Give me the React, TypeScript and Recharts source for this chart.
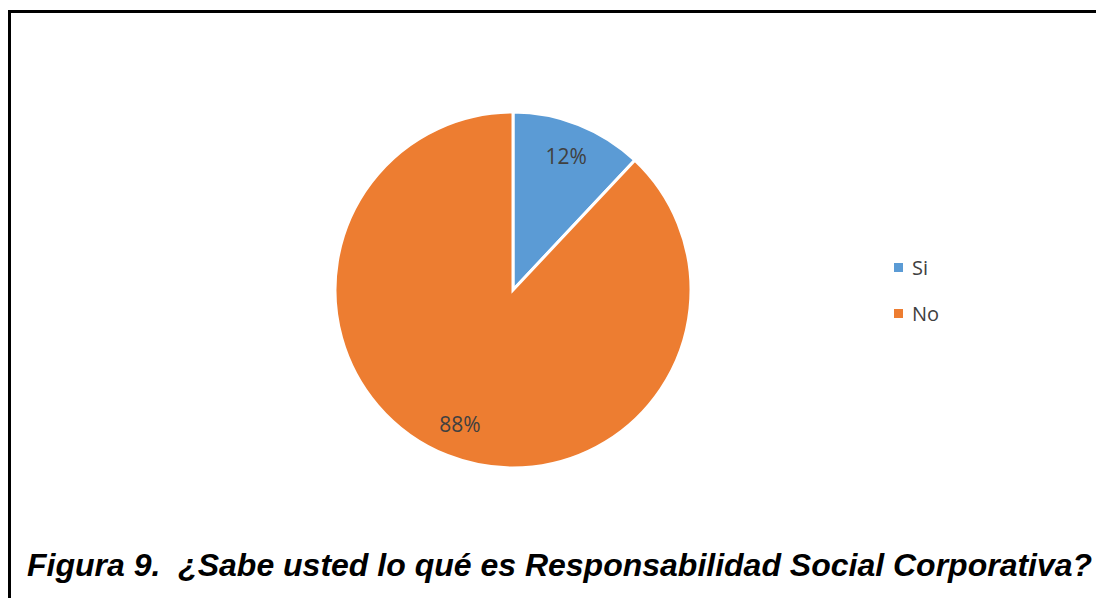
import { PieChart, Pie, Cell, Legend } from "recharts";

const categorias = ["Si", "No"];
const valores = [12, 88];
const colores = ["#5B9BD5", "#ED7D31"];

const titulo = "Figura 9.  ¿Sabe usted lo qué es Responsabilidad Social Corporativa?";

const RADIAN = Math.PI / 180;

const datos = categorias.map((nombre, i) => ({
  name: nombre,
  value: valores[i],
  color: colores[i],
}));

function Etiqueta({ cx, cy, midAngle, outerRadius, percent }: any) {
  const r = outerRadius * 0.81;
  const x = cx + r * Math.cos(-midAngle * RADIAN);
  const y = cy + r * Math.sin(-midAngle * RADIAN);
  return (
    <text
      x={x}
      y={y}
      fill="#404040"
      fontSize={21}
      fontFamily="'Open Sans', sans-serif"
      textAnchor="middle"
      dominantBaseline="central"
    >
      {`${Math.round(percent * 100)}%`}
    </text>
  );
}

function Leyenda() {
  return (
    <div style={{ fontFamily: "'Open Sans', sans-serif", fontSize: 20, color: "#404040" }}>
      {datos.map((item) => (
        <div
          key={item.name}
          style={{ display: "flex", alignItems: "center", height: 46 }}
        >
          <div
            style={{ width: 9, height: 9, backgroundColor: item.color, marginRight: 9 }}
          />
          <span>{item.name}</span>
        </div>
      ))}
    </div>
  );
}

export default function App() {
  return (
    <div
      style={{
        position: "absolute",
        left: 0,
        top: 0,
        width: 1096,
        height: 598,
        overflow: "hidden",
        background: "#fff",
      }}
    >
      <div
        style={{
          position: "absolute",
          left: 8,
          top: 10,
          width: 1100,
          height: 600,
          border: "3px solid #000",
          boxSizing: "border-box",
        }}
      />
      <div style={{ position: "absolute", left: 0, top: 0 }}>
        <PieChart width={1096} height={598} margin={{ top: 0, right: 0, bottom: 0, left: 0 }}>
          <Pie
            data={datos}
            dataKey="value"
            nameKey="name"
            cx={513}
            cy={290}
            outerRadius={178}
            startAngle={90}
            endAngle={-270}
            stroke="#fff"
            strokeWidth={3}
            labelLine={false}
            label={Etiqueta}
            isAnimationActive={false}
          >
            {datos.map((item) => (
              <Cell key={item.name} fill={item.color} />
            ))}
          </Pie>
          <Legend
            content={() => <Leyenda />}
            wrapperStyle={{ position: "absolute", left: 894, top: 244, width: 100 }}
          />
        </PieChart>
      </div>
      <div
        style={{
          position: "absolute",
          left: 27,
          top: 549,
          fontFamily: "'Liberation Sans', Arial, sans-serif",
          fontWeight: "bold",
          fontStyle: "italic",
          fontSize: 32,
          lineHeight: "32px",
          whiteSpace: "pre",
          color: "#000",
        }}
      >
        {titulo}
      </div>
    </div>
  );
}
